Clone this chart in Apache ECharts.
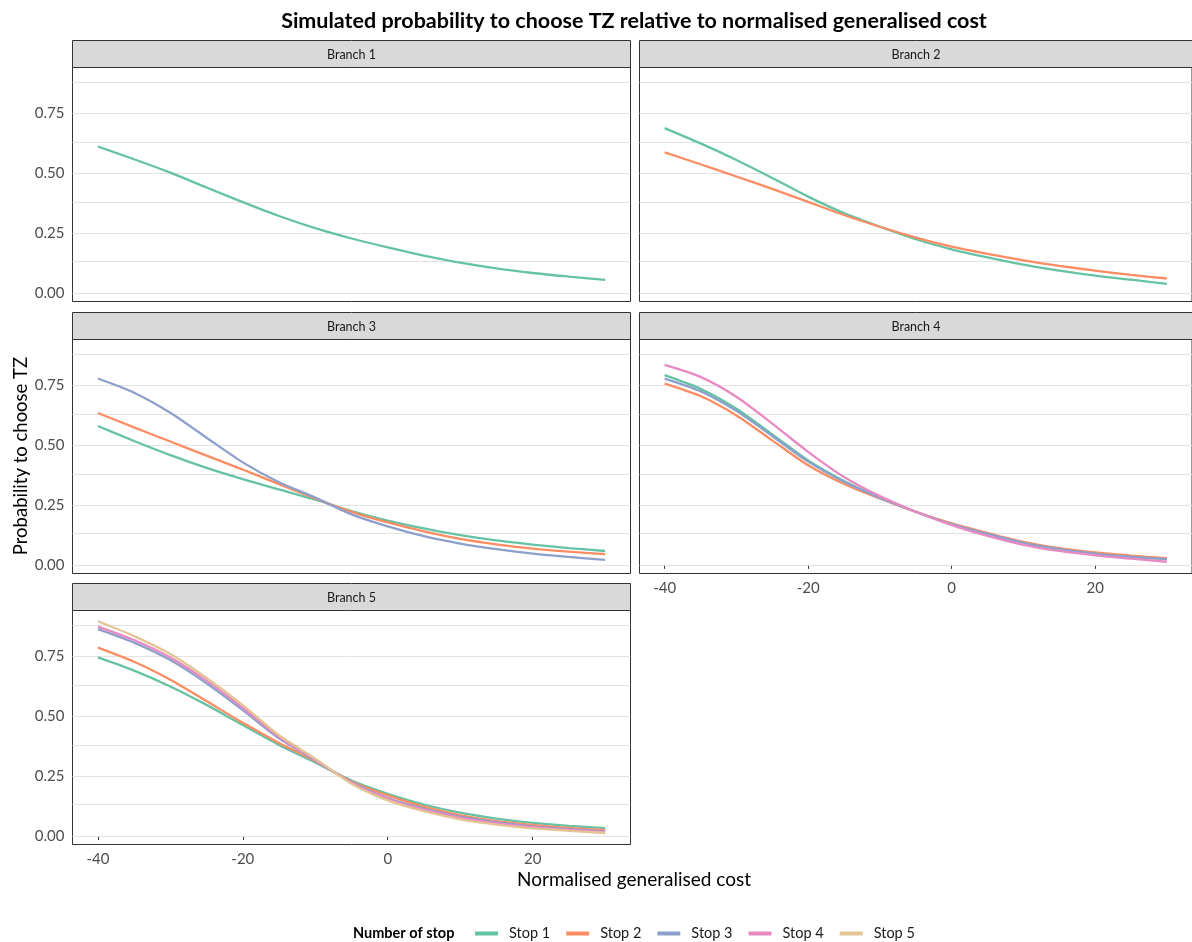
<!DOCTYPE html>
<html><head><meta charset="utf-8">
<script src="https://cdn.jsdelivr.net/npm/echarts@6/dist/echarts.min.js"></script>
<style>html,body{margin:0;padding:0;background:#fff}#c{width:1192px;height:942px}</style>
</head><body><div id="c"></div>
<script>
// ---- data ----
const xValues = [-40,-35,-30,-25,-20,-15,-10,-5,0,5,10,15,20,25,30];
const branchNames = ['Branch 1','Branch 2','Branch 3','Branch 4','Branch 5'];
const stopNames = ['Stop 1','Stop 2','Stop 3','Stop 4','Stop 5'];

const b1_stop1 = [0.611,0.558,0.502,0.440,0.379,0.321,0.270,0.227,0.190,0.156,0.126,0.102,0.083,0.068,0.054];

const b2_stop1 = [0.688,0.624,0.555,0.480,0.402,0.333,0.276,0.224,0.182,0.148,0.118,0.093,0.072,0.055,0.038];
const b2_stop2 = [0.587,0.537,0.486,0.434,0.380,0.325,0.276,0.231,0.193,0.163,0.136,0.113,0.093,0.075,0.060];

const b3_stop1 = [0.580,0.517,0.458,0.405,0.358,0.315,0.272,0.225,0.185,0.152,0.124,0.102,0.085,0.070,0.058];
const b3_stop2 = [0.634,0.574,0.515,0.456,0.398,0.337,0.277,0.221,0.177,0.140,0.109,0.086,0.068,0.055,0.045];
const b3_stop3 = [0.778,0.719,0.635,0.531,0.428,0.345,0.281,0.211,0.161,0.120,0.089,0.066,0.047,0.033,0.021];

const b4_stop1 = [0.792,0.735,0.652,0.545,0.436,0.350,0.281,0.222,0.170,0.129,0.093,0.067,0.048,0.035,0.024];
const b4_stop2 = [0.757,0.705,0.624,0.520,0.416,0.338,0.277,0.221,0.173,0.133,0.096,0.070,0.052,0.039,0.028];
const b4_stop3 = [0.778,0.725,0.643,0.538,0.431,0.347,0.280,0.222,0.170,0.129,0.092,0.066,0.047,0.034,0.024];
const b4_stop4 = [0.835,0.785,0.702,0.590,0.472,0.367,0.287,0.222,0.166,0.121,0.084,0.058,0.040,0.026,0.013];

const b5_stop1 = [0.745,0.690,0.624,0.547,0.463,0.380,0.306,0.231,0.176,0.131,0.097,0.072,0.054,0.042,0.032];
const b5_stop2 = [0.786,0.727,0.652,0.563,0.472,0.388,0.312,0.227,0.169,0.122,0.087,0.062,0.046,0.033,0.024];
const b5_stop3 = [0.863,0.807,0.734,0.637,0.525,0.407,0.315,0.224,0.158,0.114,0.080,0.057,0.040,0.028,0.019];
const b5_stop4 = [0.874,0.818,0.745,0.648,0.535,0.413,0.318,0.222,0.155,0.110,0.076,0.053,0.036,0.025,0.017];
const b5_stop5 = [0.896,0.834,0.759,0.659,0.546,0.420,0.322,0.218,0.148,0.103,0.069,0.047,0.031,0.021,0.012];

const yTickValues = [0, 0.25, 0.5, 0.75];
const yGridValues = [0, 0.125, 0.25, 0.375, 0.5, 0.625, 0.75, 0.875];
const xTickValues = [-40, -20, 0, 20];

const titleText = 'Simulated probability to choose TZ relative to normalised generalised cost';
const xTitle = 'Normalised generalised cost';
const yTitle = 'Probability to choose TZ';
const legendTitle = 'Number of stop';

// ---- build ----
const palette = ['#66C2A5','#FC8D62','#8DA0CB','#E78AC3','#E5C494'];
const panelSeries = [
  [b1_stop1],
  [b2_stop1, b2_stop2],
  [b3_stop1, b3_stop2, b3_stop3],
  [b4_stop1, b4_stop2, b4_stop3, b4_stop4],
  [b5_stop1, b5_stop2, b5_stop3, b5_stop4, b5_stop5]
];
const FONT = 'Lato, "Open Sans", sans-serif';
const layout = [
  {left: 72.5, top: 67.5, width: 558, yLab: true,  xLab: false},
  {left: 639.5, top: 67.5, width: 557, yLab: false, xLab: false},
  {left: 72.5, top: 339.5, width: 558, yLab: true,  xLab: false},
  {left: 639.5, top: 339.5, width: 557, yLab: false, xLab: true},
  {left: 72.5, top: 610.5, width: 558, yLab: true,  xLab: true}
];
const PH = 234, SH = 27;

const grids = [], xAxes = [], yAxes = [], series = [], graphics = [];
layout.forEach((L, i) => {
  grids.push({left: L.left, top: L.top, width: L.width, height: PH, show: true,
    borderColor: '#333333', borderWidth: 1, backgroundColor: '#ffffff', containLabel: false});
  xAxes.push({type: 'value', gridIndex: i, min: -43.5, max: 33.5,
    axisLine: {show: false}, splitLine: {show: false},
    axisTick: {show: L.xLab, length: 4, lineStyle: {color: '#333333'}, customValues: xTickValues},
    axisLabel: {show: L.xLab, customValues: xTickValues, color: '#4D4D4D', fontFamily: FONT, fontSize: 15, margin: 7}
  });
  yAxes.push({type: 'value', gridIndex: i, min: -0.036, max: 0.941,
    axisLine: {show: false}, splitLine: {show: false},
    axisTick: {show: L.yLab, length: 4, lineStyle: {color: '#333333'}, customValues: yTickValues},
    axisLabel: {show: L.yLab, customValues: yTickValues, color: '#4D4D4D', fontFamily: FONT, fontSize: 15, margin: 8,
      formatter: v => v.toFixed(2)}
  });
  // gridlines
  series.push({type: 'line', xAxisIndex: i, yAxisIndex: i, data: [], silent: true, z: 1,
    markLine: {silent: true, symbol: ['none','none'], z: 1, animation: false,
      label: {show: false}, emphasis: {disabled: true},
      lineStyle: {color: '#E3E3E3', width: 1, type: 'solid'},
      data: yGridValues.map(v => ({yAxis: v}))}
  });
  panelSeries[i].forEach((vals, k) => {
    series.push({type: 'line', name: stopNames[k], xAxisIndex: i, yAxisIndex: i,
      data: xValues.map((x, j) => [x, vals[j]]), showSymbol: false, symbol: 'none',
      smooth: 0.25, z: 3,
      lineStyle: {color: palette[k], width: 2.3}, itemStyle: {color: palette[k]},
      emphasis: {disabled: true}});
  });
  // strip
  graphics.push({type: 'rect', shape: {x: L.left, y: L.top - SH, width: L.width, height: SH},
    style: {fill: '#D9D9D9', stroke: '#333333', lineWidth: 1}, z: 10});
  graphics.push({type: 'text', x: L.left + (i % 2 === 0 ? 558 : 557) / 2 - (i % 2 === 1 ? 2 : 0), y: L.top - SH / 2 + 1,
    style: {text: branchNames[i], fill: '#1A1A1A', font: '12.5px ' + FONT, textAlign: 'center', textVerticalAlign: 'middle'}, z: 11});
});

graphics.push({type: 'text', x: 634, y: 21,
  style: {text: titleText, fill: '#000000', font: 'bold 21.5px ' + FONT, textAlign: 'center', textVerticalAlign: 'middle'}});
graphics.push({type: 'text', x: 634, y: 880,
  style: {text: xTitle, fill: '#000000', font: '19px ' + FONT, textAlign: 'center', textVerticalAlign: 'middle'}});
graphics.push({type: 'text', x: 21, y: 456, rotation: Math.PI / 2,
  style: {text: yTitle, fill: '#000000', font: '18.5px ' + FONT, textAlign: 'center', textVerticalAlign: 'middle'}});
graphics.push({type: 'text', x: 353, y: 933,
  style: {text: legendTitle, fill: '#000000', font: 'bold 14.5px ' + FONT, textAlign: 'left', textVerticalAlign: 'middle'}});

const chart = echarts.init(document.getElementById('c'), null, {renderer: 'canvas'});
chart.setOption({
  animation: false,
  backgroundColor: '#ffffff',
  grid: grids, xAxis: xAxes, yAxis: yAxes, series: series,
  legend: {data: stopNames, left: 475, top: 926, padding: 0, icon: 'rect', itemWidth: 23, itemHeight: 4, itemGap: 16,
    selectedMode: false,
    textStyle: {fontFamily: FONT, fontSize: 14.5, color: '#1A1A1A', padding: [0, 0, 0, 6]}},
  graphic: graphics
});
</script></body></html>
